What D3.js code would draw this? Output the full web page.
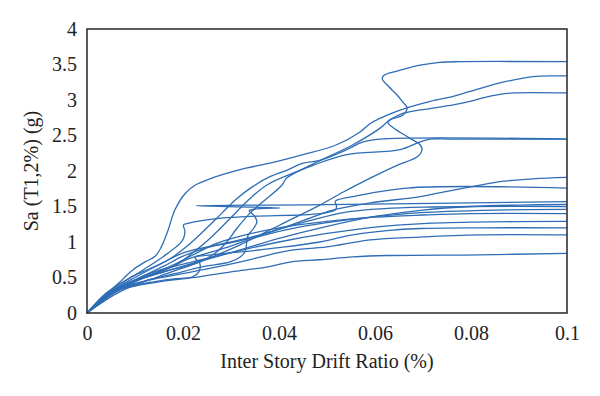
<!DOCTYPE html>
<html>
<head>
<meta charset="utf-8">
<script src="https://cdn.jsdelivr.net/npm/d3@7"></script>
<style>
  body { margin: 0; background: #fff; }
  text { font-family: "Liberation Serif", "DejaVu Serif", serif; fill: #222; }
</style>
</head>
<body>
<main></main>
<script>
// IDA curves: [inter story drift ratio, Sa(T1,2%)]
const c1 = [[0,0],[0.0069,0.30],[0.0152,0.52],[0.0235,0.72],[0.0319,0.96],[0.0402,1.24],[0.0485,1.52],[0.0533,1.70],[0.059,1.90],[0.0646,2.08],[0.0688,2.20],[0.0698,2.30],[0.0694,2.37],[0.0673,2.46],[0.0638,2.61],[0.0627,2.68],[0.0631,2.72],[0.0658,2.79],[0.0667,2.89],[0.0658,2.97],[0.0646,3.07],[0.0627,3.20],[0.0615,3.30],[0.0619,3.35],[0.0648,3.41],[0.0694,3.49],[0.0735,3.53],[0.0777,3.54],[0.1,3.54]];
const c2 = [[0,0],[0.0027,0.18],[0.0052,0.34],[0.0071,0.45],[0.0081,0.52],[0.0096,0.61],[0.0121,0.72],[0.0142,0.80],[0.0154,0.92],[0.0169,1.17],[0.0183,1.45],[0.0204,1.68],[0.0225,1.80],[0.0256,1.89],[0.0331,2.04],[0.0381,2.11],[0.045,2.23],[0.052,2.37],[0.0569,2.55],[0.059,2.67],[0.061,2.74],[0.0645,2.84],[0.0715,2.98],[0.0763,3.05],[0.0798,3.12],[0.086,3.24],[0.0929,3.33],[0.0975,3.34],[0.1,3.34]];
const c3 = [[0,0],[0.005,0.30],[0.01,0.45],[0.016,0.58],[0.0235,0.72],[0.027,0.86],[0.0291,1.00],[0.0312,1.19],[0.034,1.41],[0.0367,1.57],[0.0406,1.80],[0.0416,1.90],[0.0465,2.08],[0.0554,2.37],[0.061,2.60],[0.0631,2.72],[0.0658,2.81],[0.0715,2.88],[0.0763,2.93],[0.0798,2.98],[0.0819,3.02],[0.086,3.08],[0.089,3.10],[0.1,3.10]];
const c4 = [[0,0],[0.005,0.30],[0.01,0.46],[0.015,0.58],[0.0187,0.68],[0.0215,0.82],[0.0256,1.05],[0.0298,1.33],[0.0333,1.57],[0.0374,1.80],[0.0437,1.99],[0.0471,2.08],[0.0541,2.23],[0.0652,2.30],[0.0694,2.41],[0.0715,2.45],[0.076,2.45],[0.1,2.45]];
const c5 = [[0,0],[0.005,0.32],[0.009,0.50],[0.013,0.62],[0.017,0.75],[0.021,0.95],[0.025,1.20],[0.028,1.40],[0.031,1.60],[0.0345,1.78],[0.0381,1.92],[0.0416,2.01],[0.045,2.11],[0.0485,2.15],[0.0541,2.30],[0.0575,2.41],[0.061,2.45],[0.1,2.45]];
const c6 = [[0,0],[0.005,0.30],[0.01,0.50],[0.015,0.68],[0.0202,0.85],[0.03,1.00],[0.0377,1.13],[0.045,1.30],[0.0512,1.45],[0.059,1.55],[0.0694,1.64],[0.0763,1.73],[0.0819,1.80],[0.086,1.85],[0.0929,1.89],[0.1,1.91]];
const c7 = [[0,0],[0.004,0.28],[0.008,0.45],[0.012,0.62],[0.016,0.80],[0.0194,0.98],[0.0201,1.05],[0.0204,1.15],[0.0201,1.24],[0.0208,1.26],[0.027,1.33],[0.034,1.36],[0.0485,1.40],[0.0517,1.45],[0.052,1.50],[0.0517,1.57],[0.0525,1.60],[0.0554,1.64],[0.0666,1.76],[0.1,1.76]];
const c8 = [[0,0],[0.006,0.30],[0.012,0.45],[0.018,0.55],[0.024,0.65],[0.0298,0.72],[0.0319,0.79],[0.0329,0.86],[0.0333,1.01],[0.0336,1.10],[0.0347,1.19],[0.0354,1.29],[0.0347,1.38],[0.0338,1.44],[0.036,1.47],[0.0402,1.48],[0.0227,1.51],[0.05,1.525],[0.1,1.57]];
const c9 = [[0,0],[0.005,0.30],[0.01,0.45],[0.016,0.58],[0.022,0.70],[0.03,0.85],[0.04,1.05],[0.05,1.22],[0.06,1.36],[0.07,1.45],[0.08,1.50],[0.09,1.52],[0.1,1.53]];
const c10 = [[0,0],[0.006,0.33],[0.011,0.50],[0.016,0.66],[0.02,0.80],[0.025,0.92],[0.032,1.02],[0.04,1.18],[0.048,1.33],[0.055,1.43],[0.062,1.47],[0.07,1.49],[0.08,1.50],[0.1,1.50]];
const c11 = [[0,0],[0.006,0.32],[0.011,0.48],[0.016,0.60],[0.021,0.76],[0.028,0.90],[0.036,1.08],[0.045,1.22],[0.055,1.32],[0.065,1.39],[0.075,1.43],[0.085,1.45],[0.1,1.46]];
const c12 = [[0,0],[0.006,0.30],[0.012,0.50],[0.018,0.68],[0.023,0.85],[0.027,0.98],[0.033,1.10],[0.04,1.20],[0.05,1.29],[0.06,1.35],[0.07,1.38],[0.08,1.40],[0.1,1.40]];
const c13 = [[0,0],[0.006,0.32],[0.011,0.50],[0.016,0.62],[0.022,0.72],[0.03,0.85],[0.04,1.00],[0.05,1.12],[0.06,1.21],[0.07,1.26],[0.08,1.28],[0.1,1.29]];
const c14 = [[0,0],[0.007,0.33],[0.013,0.43],[0.018,0.48],[0.022,0.51],[0.0233,0.58],[0.0235,0.70],[0.0225,0.78],[0.026,0.82],[0.032,0.86],[0.04,0.92],[0.0485,1.00],[0.0554,1.10],[0.0625,1.16],[0.0694,1.19],[0.0819,1.20],[0.1,1.20]];
const c15 = [[0,0],[0.006,0.32],[0.012,0.45],[0.018,0.53],[0.025,0.62],[0.032,0.72],[0.038,0.82],[0.042,0.88],[0.05,0.93],[0.059,1.03],[0.0694,1.07],[0.0819,1.10],[0.1,1.10]];
const c16 = [[0,0],[0.0048,0.28],[0.01,0.38],[0.016,0.45],[0.0233,0.51],[0.03,0.58],[0.0377,0.65],[0.0425,0.72],[0.0485,0.75],[0.0554,0.79],[0.0625,0.81],[0.0819,0.82],[0.1,0.84]];
const curves = [c1, c2, c3, c4, c5, c6, c7, c8, c9, c10, c11, c12, c13, c14, c15, c16];

const xTicks = [0, 0.02, 0.04, 0.06, 0.08, 0.1];
const yTicks = [0, 0.5, 1, 1.5, 2, 2.5, 3, 3.5, 4];
const xTitle = "Inter Story Drift Ratio (%)";
const yTitle = "Sa (T1,2%) (g)";

const width = 600;
const height = 396;
const margin = {top: 29, bottom: 83, left: 87, right: 33};

const svg = d3.select("main")
    .append("svg")
        .attr("width", width)
        .attr("height", height);

const x = d3.scaleLinear()
    .domain([0, 0.1])
    .range([margin.left, width - margin.right]);
const y = d3.scaleLinear()
    .domain([0, 4])
    .range([height - margin.bottom, margin.top]);

const line = d3.line()
    .x(d => x(d[0]))
    .y(d => y(d[1]))
    .curve(d3.curveCatmullRom.alpha(0.5));

svg.append("g")
    .selectAll("path")
    .data(curves)
    .join("path")
        .attr("d", line)
        .attr("fill", "none")
        .attr("stroke", "#2e6db5")
        .attr("stroke-width", 1.3)
        .attr("stroke-linejoin", "round");

// frame
svg.append("rect")
    .attr("x", x(0))
    .attr("y", y(4))
    .attr("width", x(0.1) - x(0))
    .attr("height", y(0) - y(4))
    .attr("fill", "none")
    .attr("stroke", "#333")
    .attr("stroke-width", 1.6);

const axis_x = svg.append("g")
    .attr("transform", `translate(0, ${height - margin.bottom})`)
    .call(d3.axisBottom(x).tickValues(xTicks).tickSize(0).tickPadding(13).tickFormat(d3.format("")));
axis_x.select(".domain").remove();
axis_x.selectAll("text").attr("font-size", 20).attr("fill", "#222");

const axis_y = svg.append("g")
    .attr("transform", `translate(${margin.left}, 0)`)
    .call(d3.axisLeft(y).tickValues(yTicks).tickSize(0).tickPadding(10).tickFormat(d3.format("")));
axis_y.select(".domain").remove();
axis_y.selectAll("text").attr("font-size", 20).attr("fill", "#222");

svg.append("text")
    .attr("x", (x(0) + x(0.1)) / 2)
    .attr("y", 368)
    .attr("text-anchor", "middle")
    .attr("font-size", 20)
    .text(xTitle);

svg.append("text")
    .attr("transform", `translate(38, ${(y(0) + y(4)) / 2}) rotate(-90)`)
    .attr("text-anchor", "middle")
    .attr("font-size", 20)
    .text(yTitle);
</script>
</body>
</html>
